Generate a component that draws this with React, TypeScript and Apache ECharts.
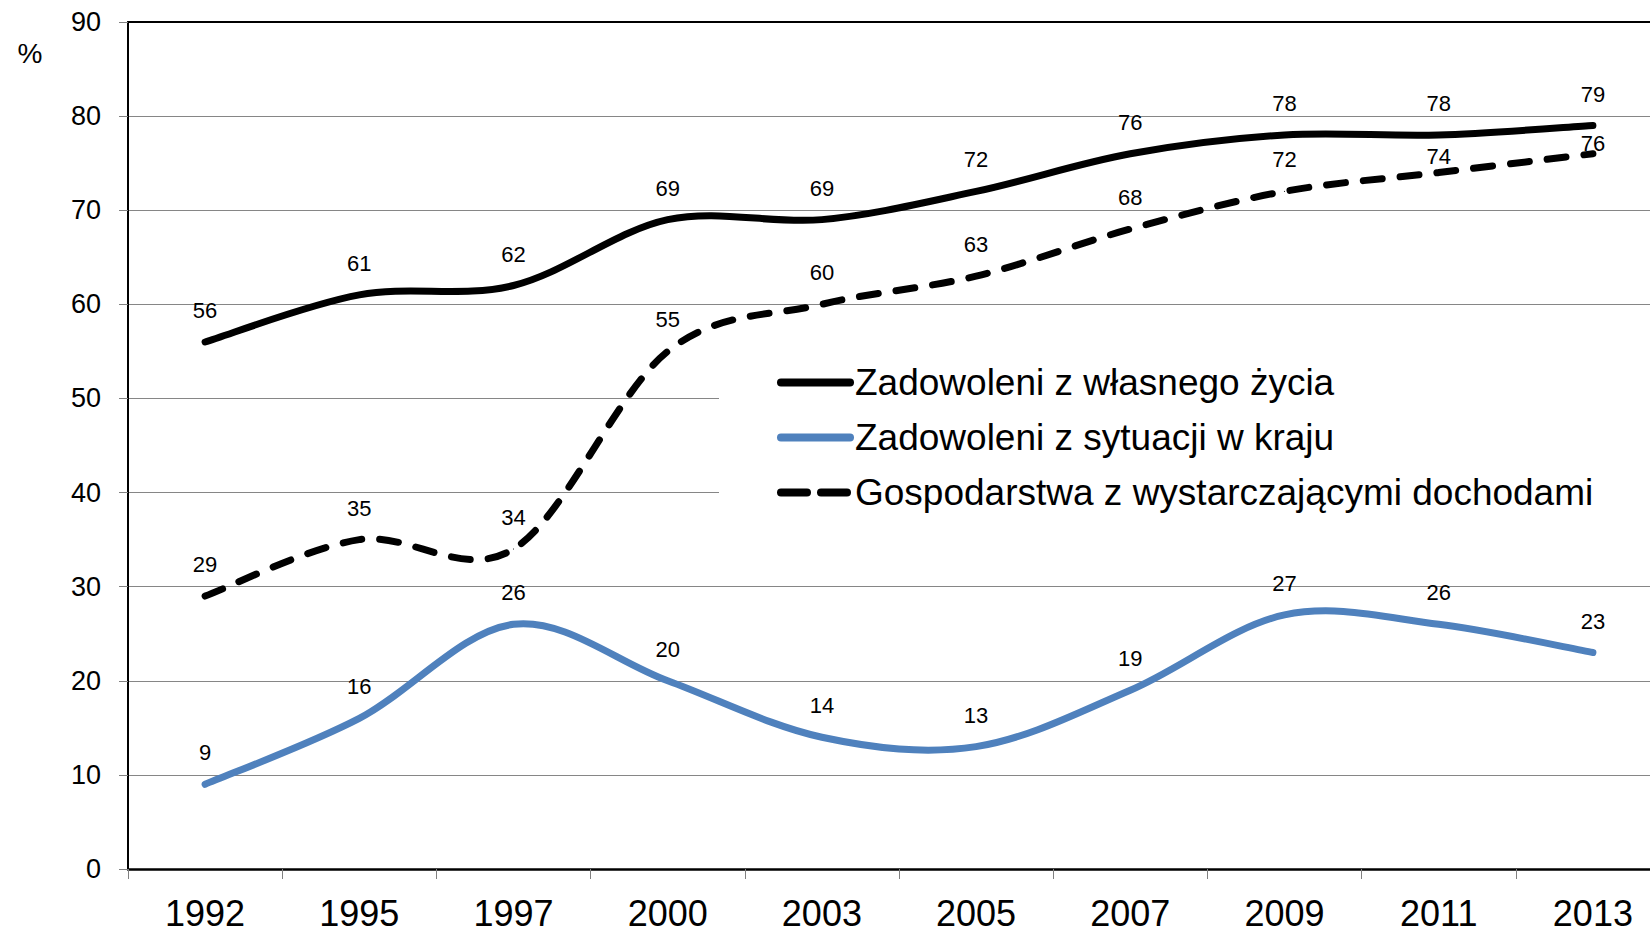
import React, { useEffect, useRef } from "react";
import * as echarts from "echarts";

const years = ["1992", "1995", "1997", "2000", "2003", "2005", "2007", "2009", "2011", "2013"];
const lifeSatisfied = [56, 61, 62, 69, 69, 72, 76, 78, 78, 79];
const countrySatisfied = [9, 16, 26, 20, 14, 13, 19, 27, 26, 23];
const sufficientIncome = [29, 35, 34, 55, 60, 63, 68, 72, 74, 76];
const yTicks = { min: 0, max: 90, interval: 10 };

const seriesNames = [
  "Zadowoleni z własnego życia",
  "Zadowoleni z sytuacji w kraju",
  "Gospodarstwa z wystarczającymi dochodami",
];

const FONT = "'Liberation Sans', Arial, sans-serif";
const BLUE = "#4F81BD";

// Smoothed curve (Catmull-Rom style, as in spreadsheet charts), positioned via the chart's own scales
function curveSeries(id: string, values: number[], color: string, dash: number[] | null) {
  return {
    type: "custom",
    id,
    name: id,
    data: values.map((v, i) => [i, v]),
    encode: { x: 0, y: 1 },
    silent: true,
    z: 3,
    renderItem: (params: any, api: any) => {
      if (params.dataIndex !== 0) return null;
      const pts = values.map((v, i) => api.coord([i, v]));
      const n = pts.length;
      let d = `M${pts[0][0]},${pts[0][1]}`;
      for (let i = 0; i < n - 1; i++) {
        const p0 = pts[Math.max(i - 1, 0)];
        const p1 = pts[i];
        const p2 = pts[i + 1];
        const p3 = pts[Math.min(i + 2, n - 1)];
        const c1x = p1[0] + (p2[0] - p0[0]) / 6;
        const c1y = p1[1] + (p2[1] - p0[1]) / 6;
        const c2x = p2[0] - (p3[0] - p1[0]) / 6;
        const c2y = p2[1] - (p3[1] - p1[1]) / 6;
        d += ` C${c1x},${c1y} ${c2x},${c2y} ${p2[0]},${p2[1]}`;
      }
      return {
        type: "path",
        shape: { pathData: d },
        style: {
          fill: "none",
          stroke: color,
          lineWidth: 7,
          lineCap: "round",
          lineJoin: "round",
          lineDash: dash || undefined,
        },
      };
    },
  };
}

export default function App() {
  const ref = useRef<HTMLDivElement>(null);
  useEffect(() => {
    if (!ref.current) return;
    const chart = echarts.init(ref.current, null, { renderer: "svg" });
    const label = {
      show: true,
      position: "top",
      distance: 20,
      fontSize: 22,
      color: "#000",
      fontFamily: FONT,
    };
    const incomeData = sufficientIncome.map((v, i) => {
      if (i === 8) return { value: v, label: { offset: [0, 15] } };
      if (i === 9) return { value: v, label: { offset: [0, 21] } };
      return v;
    });
    const labelSeries = (name: string, data: any[], color: string, dash: any) => ({
      name,
      type: "line",
      data,
      symbol: "circle",
      symbolSize: 1,
      showSymbol: true,
      showAllSymbol: true,
      silent: true,
      lineStyle: { color, width: 0, opacity: 0, type: dash },
      itemStyle: { color },
      label,
      z: 4,
    });
    chart.setOption({
      animation: false,
      textStyle: { fontFamily: FONT },
      grid: { left: 128, right: -20, top: 22, bottom: 62, outerBoundsMode: "none" },
      graphic: [
        {
          type: "text",
          x: 30,
          y: 53,
          style: { text: "%", fill: "#000", font: `28px ${FONT}`, align: "center", verticalAlign: "middle" },
        },
      ],
      legend: {
        orient: "vertical",
        left: 719,
        top: 334,
        padding: [30, 90, 35, 58],
        backgroundColor: "#fff",
        itemWidth: 69,
        itemHeight: 14,
        itemGap: 18,
        z: 1,
        selectedMode: false,
        itemStyle: { opacity: 0 },
        textStyle: { fontSize: 37, color: "#000", fontFamily: FONT, lineHeight: 37 },
        data: [
          { name: seriesNames[0], lineStyle: { color: "#000", width: 8, opacity: 1, type: "solid", cap: "round" } },
          { name: seriesNames[1], lineStyle: { color: BLUE, width: 8, opacity: 1, type: "solid", cap: "round" } },
          { name: seriesNames[2], lineStyle: { color: "#000", width: 8, opacity: 1, type: [26, 14], cap: "round" } },
        ],
      },
      xAxis: [
        {
          type: "category",
          data: years,
          boundaryGap: true,
          axisLine: { lineStyle: { color: "#000", width: 2.5 } },
          axisTick: { show: true, length: 10, lineStyle: { color: "#808080", width: 1 } },
          axisLabel: { fontSize: 36, color: "#000", margin: 26, fontFamily: FONT },
          splitLine: { show: false },
        },
        {
          type: "category",
          data: years,
          position: "top",
          boundaryGap: true,
          axisLine: { lineStyle: { color: "#000", width: 2 } },
          axisTick: { show: false },
          axisLabel: { show: false },
          splitLine: { show: false },
        },
      ],
      yAxis: {
        type: "value",
        min: yTicks.min,
        max: yTicks.max,
        interval: yTicks.interval,
        axisLine: { show: true, lineStyle: { color: "#000", width: 2 } },
        axisTick: { show: true, length: 9, lineStyle: { color: "#808080", width: 1 } },
        axisLabel: { fontSize: 27, color: "#000", margin: 27, fontFamily: FONT },
        splitLine: { show: true, lineStyle: { color: "#868686", width: 1 } },
      },
      series: [
        curveSeries("curve-life", lifeSatisfied, "#000", null),
        curveSeries("curve-country", countrySatisfied, BLUE, null),
        curveSeries("curve-income", sufficientIncome, "#000", [19, 18]),
        labelSeries(seriesNames[0], lifeSatisfied, "#000", "solid"),
        labelSeries(seriesNames[1], countrySatisfied, BLUE, "solid"),
        labelSeries(seriesNames[2], incomeData, "#000", "dashed"),
      ],
    });
    return () => chart.dispose();
  }, []);
  return (
    <div
      ref={ref}
      style={{ position: "fixed", left: 0, top: 0, width: 1650, height: 931, background: "#fff" }}
    />
  );
}
